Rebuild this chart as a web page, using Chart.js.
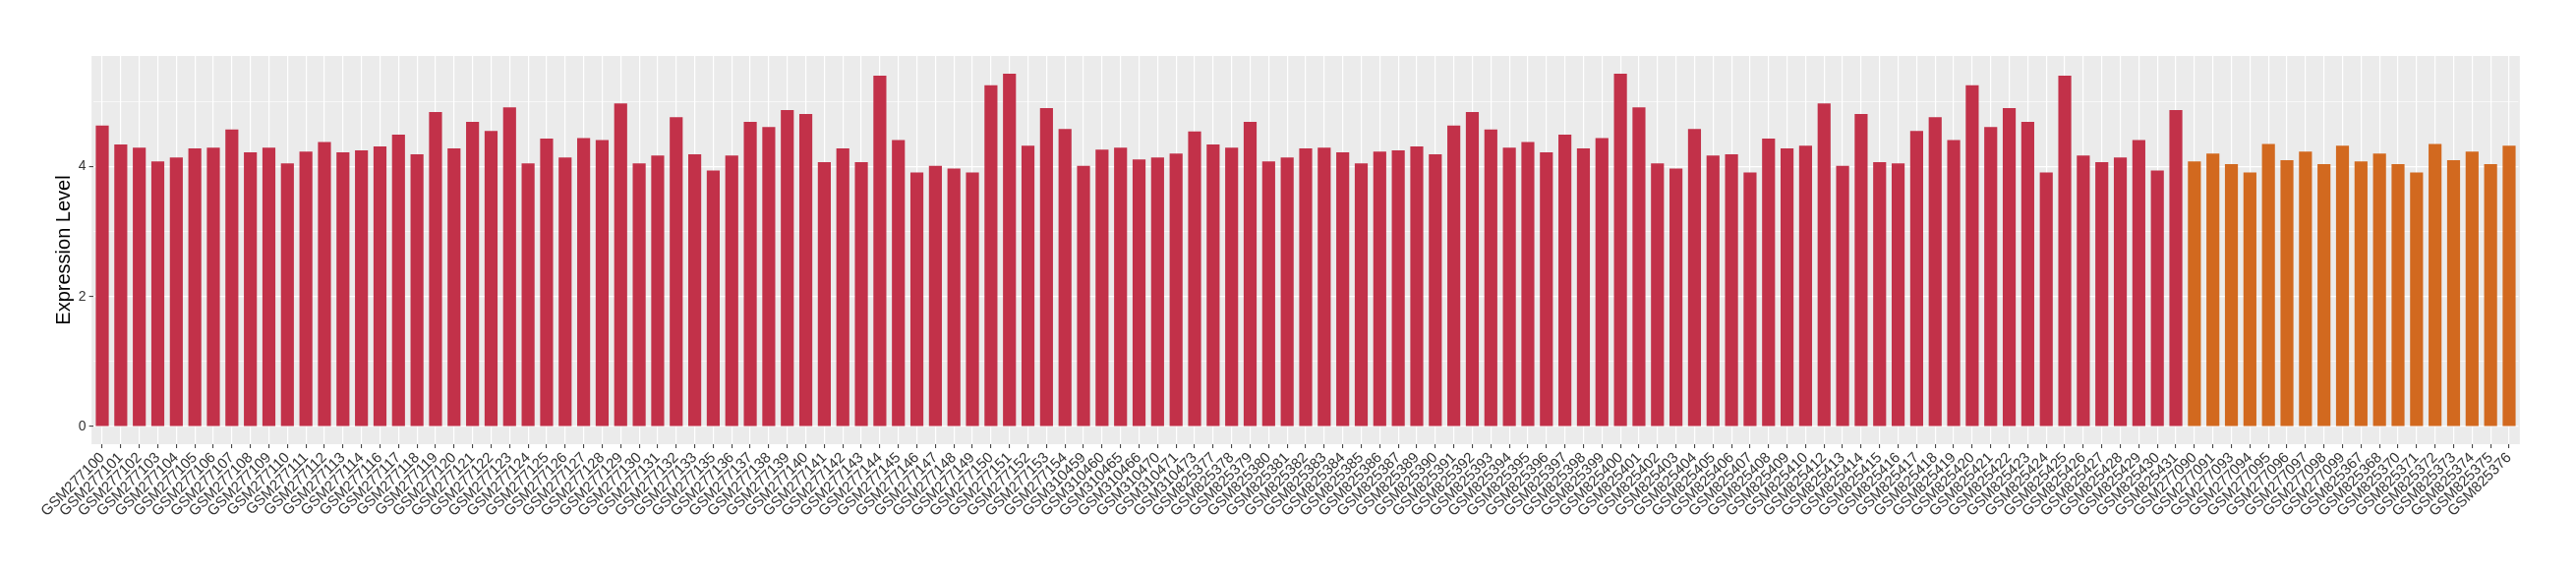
<!DOCTYPE html>
<html>
<head>
<meta charset="utf-8">
<script src="https://cdn.jsdelivr.net/npm/chart.js@4.4.1/dist/chart.umd.min.js"></script>
<style>
  html, body { margin: 0; padding: 0; background: #fff; }
  #wrap { width: 2620px; height: 580px; position: relative; }
</style>
</head>
<body>
<div id="wrap"><canvas id="expr-chart"></canvas></div>
<script>
const sampleLabels = [
  'GSM277100', 'GSM277101', 'GSM277102', 'GSM277103', 'GSM277104', 'GSM277105', 'GSM277106', 'GSM277107',
  'GSM277108', 'GSM277109', 'GSM277110', 'GSM277111', 'GSM277112', 'GSM277113', 'GSM277114', 'GSM277116',
  'GSM277117', 'GSM277118', 'GSM277119', 'GSM277120', 'GSM277121', 'GSM277122', 'GSM277123', 'GSM277124',
  'GSM277125', 'GSM277126', 'GSM277127', 'GSM277128', 'GSM277129', 'GSM277130', 'GSM277131', 'GSM277132',
  'GSM277133', 'GSM277135', 'GSM277136', 'GSM277137', 'GSM277138', 'GSM277139', 'GSM277140', 'GSM277141',
  'GSM277142', 'GSM277143', 'GSM277144', 'GSM277145', 'GSM277146', 'GSM277147', 'GSM277148', 'GSM277149',
  'GSM277150', 'GSM277151', 'GSM277152', 'GSM277153', 'GSM277154',
  'GSM310459', 'GSM310460', 'GSM310465', 'GSM310466', 'GSM310470', 'GSM310471', 'GSM310473',
  'GSM825377', 'GSM825378', 'GSM825379', 'GSM825380', 'GSM825381', 'GSM825382', 'GSM825383', 'GSM825384',
  'GSM825385', 'GSM825386', 'GSM825387', 'GSM825389', 'GSM825390', 'GSM825391', 'GSM825392', 'GSM825393',
  'GSM825394', 'GSM825395', 'GSM825396', 'GSM825397', 'GSM825398', 'GSM825399', 'GSM825400', 'GSM825401',
  'GSM825402', 'GSM825403', 'GSM825404', 'GSM825405', 'GSM825406', 'GSM825407', 'GSM825408', 'GSM825409',
  'GSM825410', 'GSM825412', 'GSM825413', 'GSM825414', 'GSM825415', 'GSM825416', 'GSM825417', 'GSM825418',
  'GSM825419', 'GSM825420', 'GSM825421', 'GSM825422', 'GSM825423', 'GSM825424', 'GSM825425', 'GSM825426',
  'GSM825427', 'GSM825428', 'GSM825429', 'GSM825430', 'GSM825431',
  'GSM277090', 'GSM277091', 'GSM277093', 'GSM277094', 'GSM277095', 'GSM277096', 'GSM277097', 'GSM277098',
  'GSM277099', 'GSM825367', 'GSM825368', 'GSM825370', 'GSM825371', 'GSM825372', 'GSM825373', 'GSM825374',
  'GSM825375', 'GSM825376',
];

const expressionValues = [
  4.63, 4.34, 4.29, 4.08, 4.14, 4.28, 4.29, 4.57, 4.22, 4.29,
  4.05, 4.23, 4.38, 4.22, 4.25, 4.31, 4.49, 4.19, 4.84, 4.28,
  4.69, 4.55, 4.91, 4.05, 4.43, 4.14, 4.44, 4.41, 4.97, 4.05,
  4.17, 4.76, 4.19, 3.94, 4.17, 4.69, 4.61, 4.87, 4.81, 4.07,
  4.28, 4.07, 5.40, 4.41, 3.91, 4.01, 3.97, 3.91, 5.25, 5.43,
  4.32, 4.90, 4.58, 4.01, 4.26, 4.29, 4.11, 4.14, 4.20, 4.54,
  4.34, 4.29, 4.69, 4.08, 4.14, 4.28, 4.29, 4.22, 4.05, 4.23,
  4.25, 4.31, 4.19, 4.63, 4.84, 4.57, 4.29, 4.38, 4.22, 4.49,
  4.28, 4.44, 5.43, 4.91, 4.05, 3.97, 4.58, 4.17, 4.19, 3.91,
  4.43, 4.28, 4.32, 4.97, 4.01, 4.81, 4.07, 4.05, 4.55, 4.76,
  4.41, 5.25, 4.61, 4.90, 4.69, 3.91, 5.40, 4.17, 4.07, 4.14,
  4.41, 3.94, 4.87,
  4.08, 4.20, 4.04, 3.91, 4.35, 4.10, 4.23, 4.04, 4.32, 4.08,
  4.20, 4.04, 3.91, 4.35, 4.10, 4.23, 4.04, 4.32,
];

// first 113 samples are group A, the last 18 group B
const sampleGroups = sampleLabels.map((_, i) => (i < 113 ? 'A' : 'B'));
const groupColors = { A: '#C23149', B: '#D2691F' };

const yTickValues = [0, 2, 4];

const TEXT_COLOR = '#333333';
const FONT = 'Liberation Sans, Arial, Helvetica, sans-serif';

const panelBackground = {
  id: 'panelBackground',
  beforeDraw(chart) {
    const { ctx, chartArea } = chart;
    ctx.save();
    ctx.fillStyle = '#EBEBEB';
    ctx.fillRect(chartArea.left - 1.5, chartArea.top, chartArea.width + 3, chartArea.height);
    ctx.restore();
  },
};

function renderExpressionChart() {
  const canvas = document.getElementById('expr-chart');
  const ymax = Math.max(...expressionValues);
  const pad = ymax * 0.05;

  new Chart(canvas, {
    type: 'bar',
    data: {
      labels: sampleLabels,
      datasets: [{
        label: 'Expression Level',
        data: expressionValues,
        backgroundColor: sampleGroups.map(g => groupColors[g]),
        borderWidth: 0,
        barPercentage: 0.7,
        categoryPercentage: 1,
      }],
    },
    options: {
      responsive: true,
      maintainAspectRatio: false,
      animation: false,
      layout: { padding: { top: 57, right: 58.6, left: 0, bottom: 0 } },
      plugins: {
        legend: { display: false },
        tooltip: { enabled: false },
      },
      scales: {
        x: {
          offset: true,
          border: { display: false },
          grid: {
            offset: false,
            color: '#FFFFFF',
            lineWidth: 1.2,
            drawTicks: true,
            tickLength: 4,
            tickColor: TEXT_COLOR,
            tickWidth: 1,
          },
          ticks: {
            autoSkip: false,
            maxRotation: 45,
            minRotation: 45,
            padding: 1,
            color: TEXT_COLOR,
            font: { family: FONT, size: 15 },
          },
          afterFit(scale) { scale.height = 128; },
        },
        y: {
          min: -pad,
          max: ymax + pad,
          border: { display: false },
          grid: {
            color: '#FFFFFF',
            lineWidth: ctx => (yTickValues.includes(ctx.tick.value) ? 1.2 : 0.6),
            tickLength: 4,
            tickColor: ctx => (yTickValues.includes(ctx.tick.value) ? TEXT_COLOR : 'rgba(0,0,0,0)'),
            tickWidth: 1,
          },
          ticks: {
            stepSize: 1,
            includeBounds: false,
            padding: 3,
            color: TEXT_COLOR,
            font: { family: FONT, size: 14 },
            callback: value => (yTickValues.includes(value) ? String(value) : ''),
          },
          title: {
            display: true,
            text: 'Expression Level',
            color: '#000000',
            font: { family: FONT, size: 20 },
            padding: { top: 53, bottom: 0 },
          },
          afterFit(scale) { scale.width = 94.6; },
        },
      },
    },
    plugins: [panelBackground],
  });
}

renderExpressionChart();
</script>
</body>
</html>
